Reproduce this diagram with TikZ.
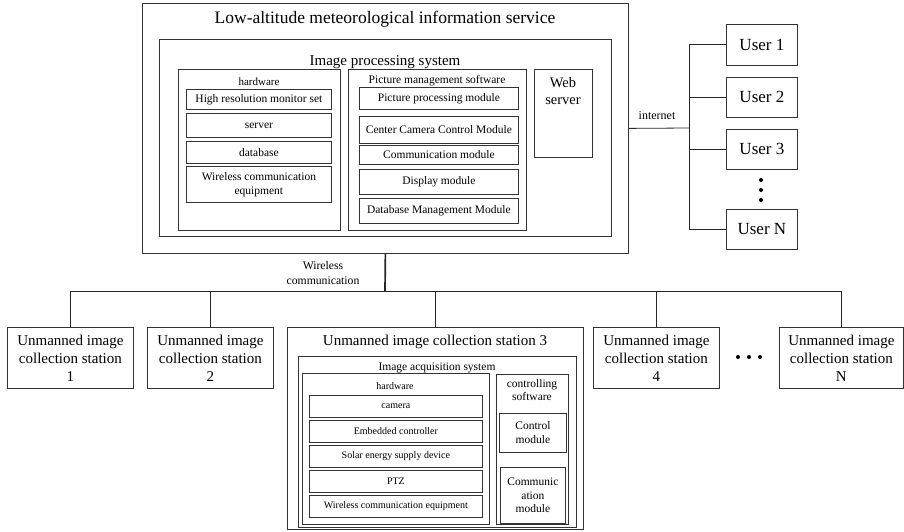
\documentclass[tikz,border=0pt]{standalone}
\usepackage{fontspec}
\setmainfont{Liberation Serif}
\newcommand\fsz[1]{\fontsize{#1}{\dimexpr #1pt*6/5\relax}\selectfont}
\tikzset{
  blk/.style={draw=black!80, line width=0.8pt, inner sep=1pt, align=center, font=\fsz{11.5}},
  wire/.style={draw=black!85, line width=0.8pt},
  dotmark/.style={circle, fill=black, inner sep=0pt, minimum size=4pt},
  lbl/.style={inner sep=0pt, align=center}
}
% \blk[options]{name}{x1}{y1}{x2}{y2}{text}: box from top-left to bottom-right corner
\newcommand\blk[7][]{\node[blk,anchor=north west,minimum width={#5pt-#3pt},minimum height={#6pt-#4pt},#1] (#2) at (#3,#4) {#7};}
\begin{document}
\begin{tikzpicture}[x=1pt,y=-1pt]
\useasboundingbox (0,0) rectangle (904,532);

% central service
\blk{svc}{142}{3}{628}{253}{}
\node[lbl, font=\fsz{17.5}] (svct) at (385,19) {Low-altitude meteorological information service};
\blk{ips}{159}{39}{611}{236}{}
\node[lbl, font=\fsz{15}] (ipst) at (385,62) {Image processing system};

\blk{hw}{178}{69}{340}{230}{}
\node[lbl, font=\fsz{11}] (hwt) at (259,82) {hardware};
\blk{hw1}{186}{89}{331}{109}{High resolution monitor set}
\blk{hw2}{186}{113}{331}{137}{server}
\blk{hw3}{186}{141}{331}{163}{database}
\blk{hw4}{186}{166}{331}{202}{Wireless communication\\equipment}

\blk{pms}{348}{69}{526}{230}{}
\node[lbl, font=\fsz{11.5}] (pmst) at (437,81) {Picture management software};
\blk{pm1}{359}{87}{518}{109}{Picture processing module}
\blk{pm2}{359}{116}{518}{143}{Center Camera Control Module}
\blk{pm3}{359}{145}{518}{164}{Communication module}
\blk{pm4}{359}{169}{518}{194}{Display module}
\blk{pm5}{359}{198}{518}{223}{Database Management Module}

\blk{web}{534}{69}{592}{157}{}
\node[lbl, font=\fsz{14.5}, anchor=north] (webt) at (563,77) {Web\\server};

% users
\blk[font=\fsz{17}]{u1}{726}{24}{797}{65}{User 1}
\blk[font=\fsz{17}]{u2}{726}{77}{797}{117}{User 2}
\blk[font=\fsz{17}]{u3}{726}{129}{797}{169}{User 3}
\blk[font=\fsz{17}]{uN}{726}{209}{797}{249}{User N}
\node[dotmark] (ud1) at (761,180) {};
\node[dotmark] (ud2) at (761,190) {};
\node[dotmark] (ud3) at (761,200) {};

\coordinate (ibus) at (689,128);
\draw[wire] (svc.east) -- (ibus);
\draw[wire] (u1.west -| ibus) -- (uN.west -| ibus);
\foreach \u in {u1,u2,u3,uN} \draw[wire] (\u.west -| ibus) -- (\u.west);
\node[lbl, font=\fsz{12}] (inet) at (657,116) {internet};

% stations
\blk[font=\fsz{15}]{s1}{7}{327}{133}{388}{Unmanned image\\collection station\\1}
\blk[font=\fsz{15}]{s2}{147}{327}{273}{388}{Unmanned image\\collection station\\2}
\blk{s3}{287}{327}{583}{529}{}
\blk[font=\fsz{15}]{s4}{593}{327}{719}{388}{Unmanned image\\collection station\\4}
\blk[font=\fsz{15}]{sN}{779}{327}{903}{388}{Unmanned image\\collection station\\N}
\node[dotmark] (sd1) at (738,357) {};
\node[dotmark] (sd2) at (749,357) {};
\node[dotmark] (sd3) at (760,357) {};

\node[lbl, font=\fsz{15}] (s3t) at (435,342) {Unmanned image collection station 3};
\blk{ias}{298}{356}{576}{527}{}
\node[lbl, font=\fsz{11.5}] (iast) at (437,368) {Image acquisition system};
\blk{shw}{302}{373}{489}{524}{}
\node[lbl, font=\fsz{10}] (shwt) at (395,386) {hardware};
\blk[font=\fsz{10}]{sh1}{309}{395}{482}{417}{camera}
\blk[font=\fsz{10}]{sh2}{309}{420}{482}{442}{Embedded controller}
\blk[font=\fsz{10}]{sh3}{309}{445}{482}{467}{Solar energy supply device}
\blk[font=\fsz{10}]{sh4}{309}{470}{482}{492}{PTZ}
\blk[font=\fsz{10}]{sh5}{309}{495}{482}{517}{Wireless communication equipment}

\blk{csw}{496}{374}{568}{524}{}
\node[lbl, font=\fsz{11.5}, anchor=north] (cswt) at (532,379) {controlling\\software};
\blk[font=\fsz{11.5}]{cs1}{499}{413}{566}{452}{Control\\module}
\blk[font=\fsz{11.5}]{cs2}{500}{467}{565}{523}{Communic\\ation\\module}

% wireless link
\coordinate (wbus) at (385,291);
\draw[wire, line width=1.7pt] (svc.south) -- (wbus);
\draw[wire] (s1.north |- wbus) -- (sN.north |- wbus);
\foreach \s in {s1,s2,s3,s4,sN} \draw[wire] (\s.north |- wbus) -- (\s.north);
\node[lbl, font=\fsz{11.7}] (wlt) at (323,273) {Wireless\\communication};
\end{tikzpicture}
\end{document}
